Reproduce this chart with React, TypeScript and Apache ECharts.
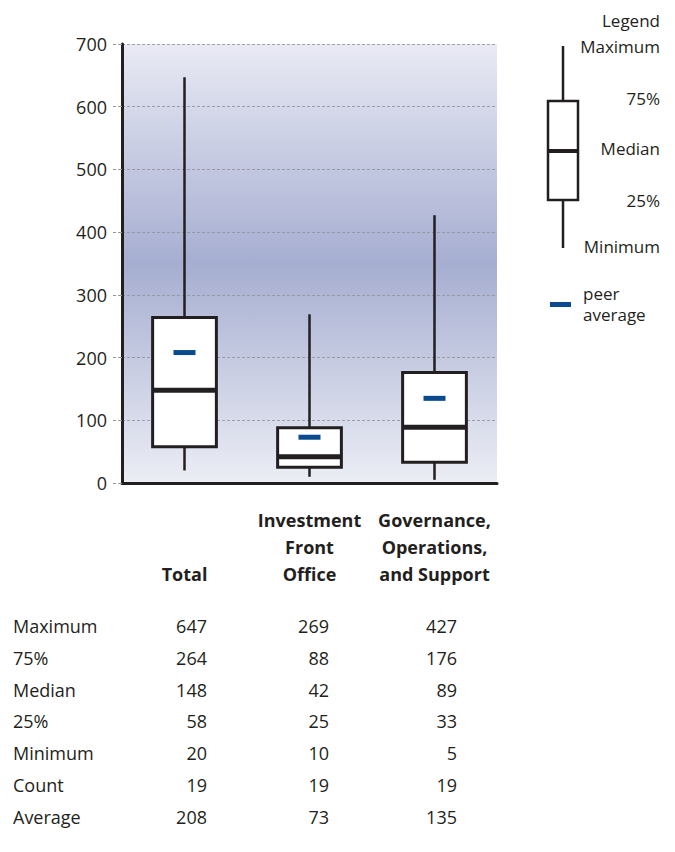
import React, { useEffect, useRef } from "react";
import * as echarts from "echarts";

// Box-plot statistics per category
const categories = ["Total", "Investment\nFront\nOffice", "Governance,\nOperations,\nand Support"];
const maxVals = [647, 269, 427];
const q3Vals = [264, 88, 176];
const medianVals = [148, 42, 89];
const q1Vals = [58, 25, 33];
const minVals = [20, 10, 5];
const counts = [19, 19, 19];
const averages = [208, 73, 135];

// Summary table rows
const rowLabels = ["Maximum", "75%", "Median", "25%", "Minimum", "Count", "Average"];
const rowValues = [maxVals, q3Vals, medianVals, q1Vals, minVals, counts, averages];

const yTicks = { min: 0, max: 700, interval: 100 };

const FONT = "'Open Sans', 'Noto Sans', sans-serif";
const INK = "#231f20";
const BLUE = "#0b4a8f";

export default function App() {
  const ref = useRef<HTMLDivElement>(null);

  useEffect(() => {
    if (!ref.current) return;
    const chart = echarts.init(ref.current, null, { renderer: "svg" });

    const boxData = categories.map((_, i) => [
      i,
      minVals[i],
      q1Vals[i],
      medianVals[i],
      q3Vals[i],
      maxVals[i],
      averages[i],
    ]);

    const renderItem = (params: any, api: any) => {
      const idx = api.value(0);
      const pMin = api.coord([idx, api.value(1)]);
      const pQ1 = api.coord([idx, api.value(2)]);
      const pMed = api.coord([idx, api.value(3)]);
      const pQ3 = api.coord([idx, api.value(4)]);
      const pMax = api.coord([idx, api.value(5)]);
      const pAvg = api.coord([idx, api.value(6)]);
      const band = api.size([1, 0])[0];
      const w = band * 0.51;
      const cx = pMed[0];
      const left = cx - w / 2;
      return {
        type: "group",
        children: [
          {
            type: "line",
            shape: { x1: cx, y1: pQ3[1], x2: cx, y2: pMax[1] },
            style: { stroke: INK, lineWidth: 2.5 },
          },
          {
            type: "line",
            shape: { x1: cx, y1: pQ1[1], x2: cx, y2: pMin[1] },
            style: { stroke: INK, lineWidth: 2.5 },
          },
          {
            type: "rect",
            shape: { x: left, y: pQ3[1], width: w, height: pQ1[1] - pQ3[1] },
            style: { fill: "#ffffff", stroke: INK, lineWidth: 3 },
          },
          {
            type: "rect",
            shape: { x: left + 1, y: pMed[1] - 2.5, width: w - 2, height: 5 },
            style: { fill: INK },
          },
          {
            type: "rect",
            shape: { x: cx - 11, y: pAvg[1] - 2.5, width: 22, height: 5 },
            style: { fill: BLUE },
          },
        ],
      };
    };

    // Summary table below the chart
    const colRight = [207, 329, 457];
    const rowTop = 626;
    const rowStep = 31.8;
    const tableTexts: any[] = [];
    rowLabels.forEach((label, r) => {
      const y = rowTop + r * rowStep;
      tableTexts.push({
        type: "text",
        x: 13,
        y,
        style: { text: label, font: `18px ${FONT}`, fill: INK, textAlign: "left", textVerticalAlign: "middle" },
      });
      rowValues[r].forEach((v, c) => {
        tableTexts.push({
          type: "text",
          x: colRight[c],
          y,
          style: { text: String(v), font: `18px ${FONT}`, fill: INK, textAlign: "right", textVerticalAlign: "middle" },
        });
      });
    });

    // Legend glyph on the right
    const legendRight = 660;
    const legendLabels: [string, number][] = [
      ["Legend", 20],
      ["Maximum", 46],
      ["75%", 98],
      ["Median", 148],
      ["25%", 200],
      ["Minimum", 246],
    ];
    const legendItems: any[] = [
      { type: "line", shape: { x1: 563, y1: 46, x2: 563, y2: 248 }, style: { stroke: INK, lineWidth: 2.5 } },
      { type: "rect", shape: { x: 548, y: 101, width: 30, height: 99 }, style: { fill: "#ffffff", stroke: INK, lineWidth: 2.5 } },
      { type: "rect", shape: { x: 549, y: 149, width: 28, height: 4 }, style: { fill: INK } },
      { type: "rect", shape: { x: 550, y: 302, width: 21, height: 5 }, style: { fill: BLUE } },
      ...legendLabels.map(([t, y]) => ({
        type: "text",
        x: legendRight,
        y,
        style: { text: t, font: `17px ${FONT}`, fill: INK, textAlign: "right", textVerticalAlign: "middle" },
      })),
      {
        type: "text",
        x: 583,
        y: 293,
        style: { text: "peer", font: `17px ${FONT}`, fill: INK, textAlign: "left", textVerticalAlign: "middle" },
      },
      {
        type: "text",
        x: 583,
        y: 314,
        style: { text: "average", font: `17px ${FONT}`, fill: INK, textAlign: "left", textVerticalAlign: "middle" },
      },
    ];

    chart.setOption({
      animation: false,
      backgroundColor: "#ffffff",
      textStyle: { fontFamily: FONT },
      grid: {
        left: 122,
        right: 178,
        top: 44,
        bottom: 369,
        show: true,
        borderWidth: 0,
        backgroundColor: new echarts.graphic.LinearGradient(0, 0, 0, 1, [
          { offset: 0, color: "#e9eaf4" },
          { offset: 0.5, color: "#a6aed1" },
          { offset: 1, color: "#eceef5" },
        ]),
      },
      xAxis: {
        type: "category",
        data: categories,
        boundaryGap: true,
        axisLine: { show: true, onZero: false, lineStyle: { color: INK, width: 3 } },
        axisTick: { show: false },
        axisLabel: {
          interval: 0,
          fontSize: 18,
          fontWeight: "bold",
          color: INK,
          lineHeight: 27,
          align: "center",
          verticalAlign: "bottom",
          margin: 104,
        },
      },
      yAxis: {
        type: "value",
        min: yTicks.min,
        max: yTicks.max,
        interval: yTicks.interval,
        axisLine: { show: true, lineStyle: { color: INK, width: 3 } },
        axisTick: { show: true, length: 9, lineStyle: { color: "#9a9a9a", type: "dashed", width: 1 } },
        axisLabel: { fontSize: 18, color: INK, margin: 15 },
        splitLine: { show: true, lineStyle: { color: "#8f8f9a", type: [3, 2], width: 0.8 } },
      },
      series: [
        {
          type: "custom",
          renderItem,
          data: boxData,
          encode: { x: 0, y: [1, 2, 3, 4, 5, 6] },
          z: 5,
        },
      ],
      graphic: [...legendItems, ...tableTexts],
    });

    return () => chart.dispose();
  }, []);

  return (
    <div
      ref={ref}
      style={{ position: "absolute", left: 0, top: 0, width: 675, height: 852 }}
    />
  );
}
